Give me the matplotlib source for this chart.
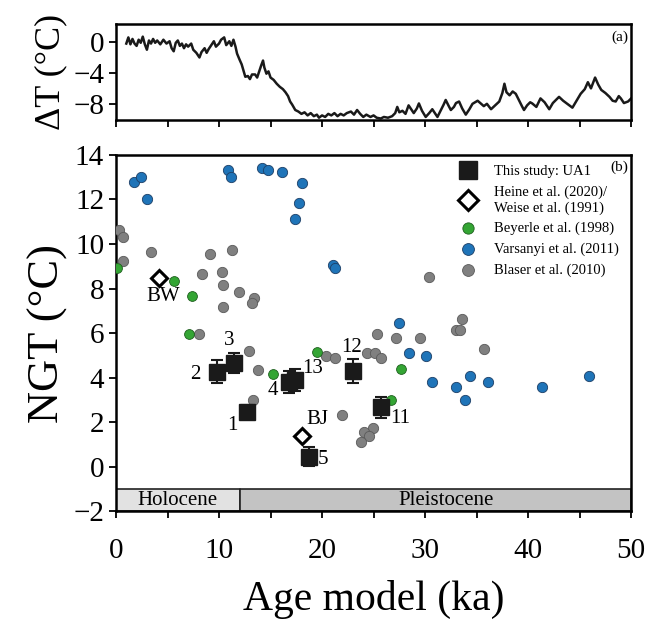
import matplotlib
matplotlib.use("Agg")

import matplotlib.pyplot as plt
from matplotlib.ticker import MultipleLocator

plt.rcParams["font.family"] = ["Liberation Serif", "DejaVu Serif"]
plt.rcParams["mathtext.fontset"] = "stix"

# (a) temperature anomaly record
age_a = [1.0, 1.2, 1.4, 1.6, 1.8, 2.0, 2.2, 2.4, 2.6, 2.8, 3.0, 3.2, 3.4, 3.6, 3.8,
         4.0, 4.3, 4.6, 4.9, 5.2, 5.4, 5.6, 5.8, 6.0, 6.2, 6.4, 6.6, 6.8, 7.0, 7.3,
         7.5, 7.8, 8.1, 8.3, 8.6, 8.8, 9.0, 9.2, 9.5, 9.7, 10.0, 10.2, 10.5, 10.7,
         11.0, 11.2, 11.4, 11.6, 11.75, 12.0, 12.2, 12.4, 12.55, 12.8, 13.0, 13.2,
         13.5, 13.7, 13.9, 14.1, 14.27, 14.4, 14.6, 14.8, 15.0, 15.3, 15.6, 15.9,
         16.2, 16.45, 16.7, 16.9, 17.1, 17.4, 17.7, 18.0, 18.3, 18.6, 18.9, 19.2,
         19.5, 19.7, 20.0, 20.3, 20.6, 20.9, 21.2, 21.5, 21.8, 22.1, 22.4, 22.8,
         23.1, 23.4, 23.7, 24.0, 24.3, 24.7, 25.0, 25.3, 25.7, 26.0, 26.4, 26.8,
         27.1, 27.3, 27.5, 27.8, 28.1, 28.4, 28.7, 28.9, 29.2, 29.4, 29.7, 30.06,
         30.4, 30.7, 31.0, 31.2, 31.5, 31.8, 32.0, 32.3, 32.5, 32.8, 33.0, 33.3,
         33.6, 33.95, 34.3, 34.6, 35.1, 35.4, 35.7, 36.0, 36.4, 36.8, 37.2, 37.5,
         37.7, 37.9, 38.2, 38.5, 38.8, 39.1, 39.4, 39.6, 39.9, 40.2, 40.4, 40.8,
         41.2, 41.6, 42.05, 42.4, 42.7, 43.0, 43.4, 43.8, 44.3, 44.7, 45.1, 45.5,
         45.8, 46.1, 46.5, 46.8, 47.1, 47.5, 47.9, 48.2, 48.5, 48.8, 49.0, 49.3,
         49.7, 50.0]
dT = [-0.2, 0.6, -0.3, 0.4, -0.2, -0.5, 0.3, -0.1, 0.7, -0.3, -1.0, 0.2, -0.2, 0.4,
      -0.1, 0.2, -0.3, 0.3, -0.2, 0.1, -0.8, -1.2, -0.1, 0.2, -0.5, -0.2, -0.8, -0.3,
      -0.6, -0.2, -1.0, -1.4, -2.0, -1.3, -0.8, -1.4, -0.9, -0.5, 0.1, -0.6, -0.2,
      0.3, 0.6, -0.4, 0.1, -0.5, 0.3, -0.6, -1.5, -2.3, -2.9, -3.8, -4.5, -4.4, -4.8,
      -4.2, -4.2, -4.6, -3.8, -3.0, -2.4, -3.3, -4.1, -3.8, -4.6, -4.9, -5.4, -5.8,
      -6.1, -6.5, -7.0, -7.7, -8.1, -8.8, -9.0, -9.3, -9.1, -9.5, -9.2, -9.6, -9.4,
      -9.8, -9.5, -9.7, -9.3, -9.5, -9.2, -9.6, -9.3, -9.5, -9.2, -9.0, -9.4, -8.8,
      -9.3, -9.7, -9.4, -9.7, -9.5, -9.8, -9.9, -9.7, -9.8, -9.6, -9.2, -8.4, -9.1,
      -8.9, -9.3, -8.2, -8.8, -9.2, -8.6, -7.95, -8.9, -9.7, -9.2, -8.7, -9.3, -9.7,
      -8.9, -8.1, -7.5, -8.3, -8.8, -8.4, -7.9, -7.7, -8.6, -9.4, -8.7, -8.0, -7.6,
      -7.95, -8.3, -8.0, -8.7, -8.2, -7.7, -6.6, -5.4, -6.5, -6.9, -6.4, -6.7, -7.5,
      -8.3, -8.8, -8.2, -7.8, -7.95, -8.4, -7.3, -7.8, -8.7, -7.9, -7.5, -7.1, -7.6,
      -8.0, -8.5, -7.6, -6.7, -6.1, -5.2, -6.0, -4.6, -5.5, -6.2, -6.6, -7.1, -7.6,
      -7.7, -7.0, -7.3, -7.9, -7.7, -7.3]

# (b) noble gas temperatures
ua1_age = [12.7, 9.8, 11.5, 16.8, 18.7, 25.7, 23.0, 17.4]
ua1_ngt = [2.45, 4.27, 4.67, 3.82, 0.45, 2.68, 4.28, 3.89]
ua1_err = [0.3, 0.5, 0.45, 0.5, 0.43, 0.47, 0.54, 0.5]
ua1_lab = ["1", "2", "3", "4", "5", "11", "12", "13"]
ua1_lab_x = [11.3, 7.7, 11.0, 15.2, 20.1, 27.6, 22.9, 19.1]
ua1_lab_y = [1.83, 4.16, 5.68, 3.41, 0.34, 2.15, 5.36, 4.42]

heine_age = [4.2, 18.1]
heine_ngt = [8.46, 1.39]
heine_lab = ["BW", "BJ"]
heine_lab_x = [4.6, 19.5]
heine_lab_y = [7.62, 2.1]

beyerle_age = [0.06, 5.6, 7.4, 7.1, 15.2, 19.5, 27.7, 26.65]
beyerle_ngt = [8.93, 8.34, 7.66, 5.98, 4.18, 5.16, 4.37, 2.98]

varsanyi_age = [1.7, 2.4, 3.0, 10.9, 11.2, 14.2, 14.8, 16.1, 18.1, 17.8, 17.4, 21.1,
                21.25, 27.5, 28.4, 30.1, 30.7, 33.0, 34.4, 33.9, 36.1, 41.3, 45.9]
varsanyi_ngt = [12.77, 13.02, 12.02, 13.32, 13.02, 13.41, 13.32, 13.21, 12.72, 11.83,
                11.13, 9.07, 8.93, 6.46, 5.09, 4.97, 3.79, 3.58, 4.07, 3.0, 3.79, 3.58,
                4.07]

blaser_age = [0.3, 0.65, 3.4, 0.7, 9.1, 11.3, 8.3, 10.25, 10.4, 11.9, 13.4, 13.2, 10.4,
              8.1, 12.95, 13.8, 13.26, 20.4, 21.3, 21.95, 24.4, 25.1, 25.3, 25.7, 27.2,
              29.5, 33.6, 33.0, 33.4, 35.7, 30.4, 24.9, 24.1, 24.55, 23.75]
blaser_ngt = [10.63, 10.32, 9.63, 9.25, 9.54, 9.75, 8.63, 8.72, 8.14, 7.84, 7.56, 7.37,
              7.17, 5.98, 5.19, 4.35, 3.0, 4.97, 4.86, 2.32, 5.09, 5.09, 5.98, 4.86, 5.77,
              5.77, 6.65, 6.16, 6.16, 5.28, 8.54, 1.73, 1.58, 1.36, 1.13]

periods = ["Holocene", "Pleistocene"]
period_start = [0, 12]
period_end = [12, 50]
period_colors = ["#e2e2e2", "#c3c3c3"]

fig = plt.figure(figsize=(6.48, 6.22), dpi=100)
ax_a = fig.add_axes([0.179, 0.807, 0.795, 0.154])
ax_b = fig.add_axes([0.179, 0.178, 0.795, 0.573])

tick_fs = 21

ax_a.plot(age_a, dT, color="#1a1a1a", lw=1.8)
ax_a.set_xlim(0, 50)
ax_a.set_ylim(-10.1, 2.3)
ax_a.set_yticks([0, -4, -8])
ax_a.set_yticklabels(["0", "\u22124", "\u22128"])
ax_a.xaxis.set_major_locator(MultipleLocator(5))
ax_a.set_xticklabels([])
ax_a.set_ylabel("\u0394T (\u00b0C)", fontsize=26, labelpad=4)
ax_a.text(0.995, 0.93, "(a)", transform=ax_a.transAxes, ha="right", va="top", fontsize=11)

# Holocene / Pleistocene bar
for name, s, e, c in zip(periods, period_start, period_end, period_colors):
    ax_b.fill_between([s, e], -2, -1, color=c, edgecolor="#222222", lw=1.2, zorder=1)
    ax_b.text((s + e) / 2 + (0 if name == "Holocene" else 1), -1.5, name,
              ha="center", va="center", fontsize=15)

ax_b.scatter(blaser_age, blaser_ngt, s=55, color="#808080", edgecolor="#5a5a5a",
             lw=0.6, zorder=3, label="Blaser et al. (2010)")
ax_b.scatter(varsanyi_age, varsanyi_ngt, s=55, color="#1f74b8", edgecolor="#1d3f66",
             lw=0.6, zorder=3, label="Varsanyi et al. (2011)")
ax_b.scatter(beyerle_age, beyerle_ngt, s=50, color="#34a534", edgecolor="#1f5f1f",
             lw=0.6, zorder=3, label="Beyerle et al. (1998)")
ax_b.plot(heine_age, heine_ngt, ls="none", marker="D", ms=8.5, mfc="white", mec="black",
          mew=2.2, zorder=4, label="Heine et al. (2020)/\nWeise et al. (1991)")
ax_b.errorbar(ua1_age, ua1_ngt, yerr=ua1_err, fmt="s", ms=11, color="#1a1a1a",
              ecolor="#1a1a1a", elinewidth=1.5, capsize=4, capthick=1.5, zorder=5,
              label="This study: UA1")

for t, x, y in zip(ua1_lab, ua1_lab_x, ua1_lab_y):
    ax_b.text(x, y, t, ha="center", va="center", fontsize=15, zorder=6)
for t, x, y in zip(heine_lab, heine_lab_x, heine_lab_y):
    ax_b.text(x, y, t, ha="center", va="center", fontsize=15, zorder=6)

ax_b.set_xlim(0, 50)
ax_b.set_ylim(-2, 14)
ax_b.set_yticks(range(-2, 15, 2))
ax_b.set_yticklabels(["\u22122"] + [str(v) for v in range(0, 15, 2)])
ax_b.xaxis.set_major_locator(MultipleLocator(10))
ax_b.xaxis.set_minor_locator(MultipleLocator(5))
ax_b.set_ylabel("NGT (\u00b0C)", fontsize=32, labelpad=4)
ax_b.set_xlabel("Age model (ka)", fontsize=30, labelpad=12)
ax_b.text(0.995, 0.985, "(b)", transform=ax_b.transAxes, ha="right", va="top", fontsize=11)

handles, labels = ax_b.get_legend_handles_labels()
order = [4, 3, 2, 1, 0]
leg = ax_b.legend([handles[i] for i in order], [labels[i] for i in order],
                  loc="upper left", bbox_to_anchor=(0.635, 1.0), frameon=False,
                  fontsize=10.5, handletextpad=0.8, labelspacing=0.5, borderaxespad=0.3,
                  markerscale=1.15)

for ax in (ax_a, ax_b):
    for sp in ax.spines.values():
        sp.set_linewidth(1.8)
    ax.tick_params(axis="both", which="both", direction="out", length=5, width=1.3,
                   labelsize=tick_fs)
ax_b.tick_params(axis="x", which="both", pad=14)

plt.savefig("out.png", dpi=100)
plt.close()
